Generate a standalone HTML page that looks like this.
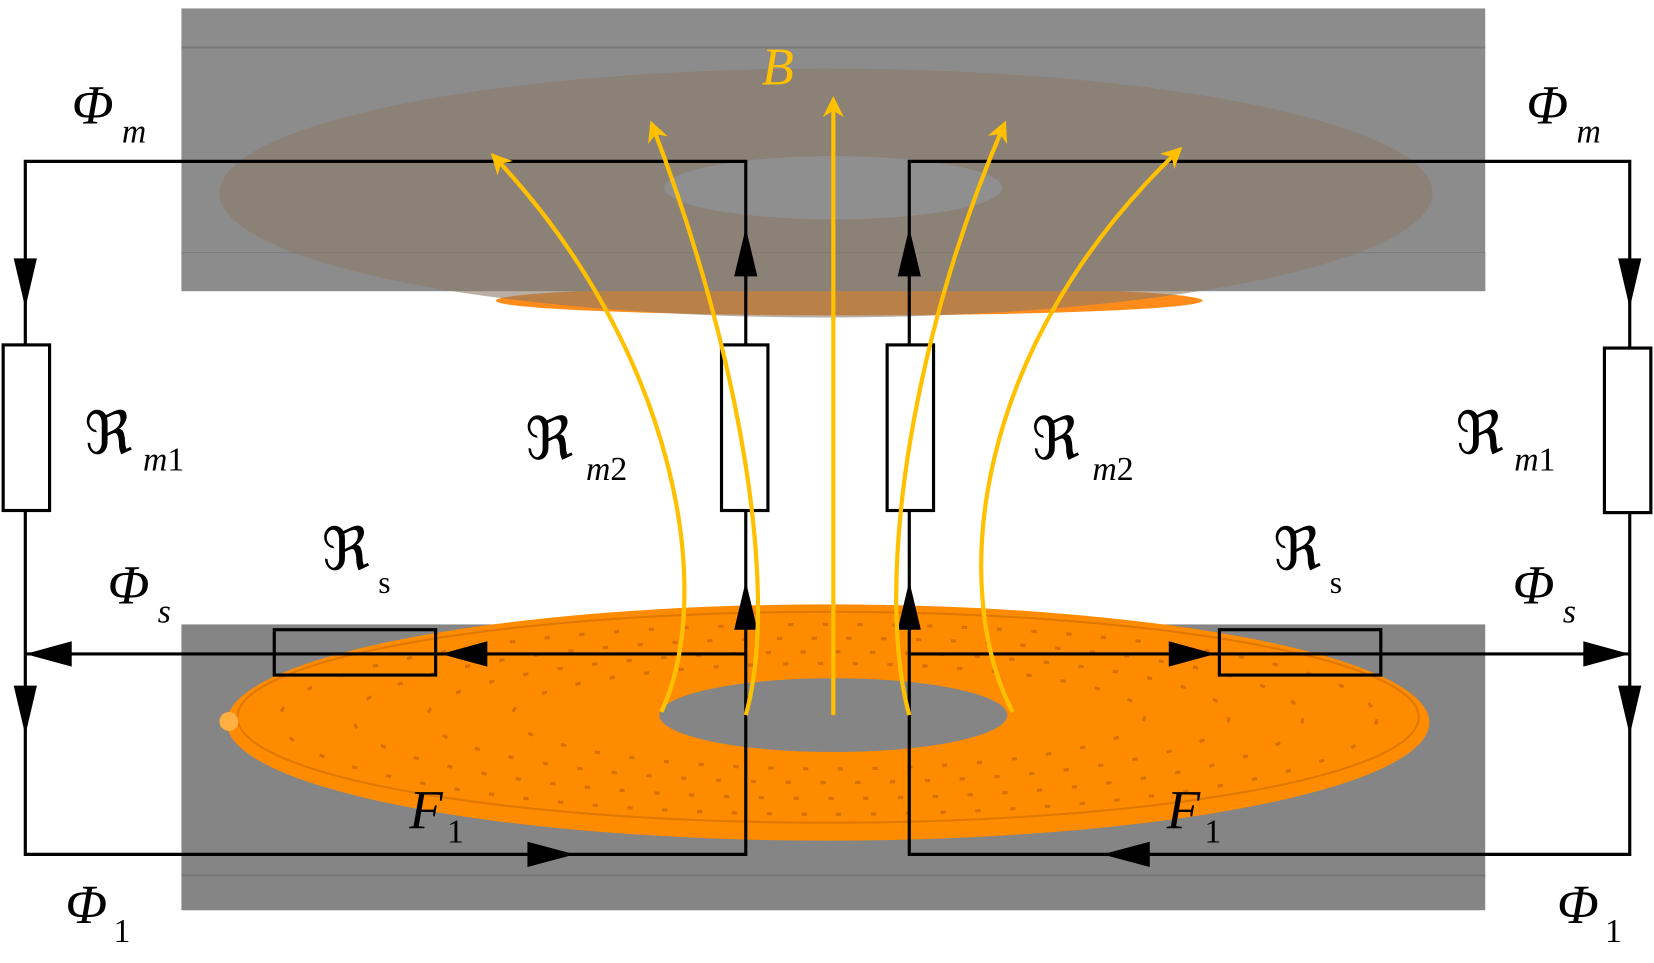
<!DOCTYPE html>
<html><head><meta charset="utf-8"><style>
html,body{margin:0;padding:0;background:#fff;}
svg{display:block;}
text{font-family:"Liberation Serif","DejaVu Serif",serif;font-style:italic;}
</style></head><body>
<svg width="1654" height="963" viewBox="0 0 1568 913" preserveAspectRatio="none" xmlns="http://www.w3.org/2000/svg">
<defs>
<marker id="ay" viewBox="0 0 10 10" refX="8" refY="5" markerWidth="5" markerHeight="5" orient="auto"><path d="M0,0 L10,5 L0,10 L3,5 z" fill="#ffc000"/></marker>
</defs>
<!-- top block -->
<rect x="172" y="8" width="1236" height="268" fill="#8c8c8c"/>
<line x1="172" y1="45" x2="1408" y2="45" stroke="#7a7a7a" stroke-width="2"/>
<line x1="172" y1="240" x2="1408" y2="240" stroke="#7a7a7a" stroke-width="2"/>
<ellipse cx="805" cy="285" rx="335" ry="14" fill="#ff8c1a"/>
<rect x="172" y="240" width="1236" height="36" fill="#8c8c8c"/>
<ellipse cx="783" cy="183" rx="575" ry="118" fill="#8a7a68" opacity="0.6"/>
<ellipse cx="790" cy="178" rx="160" ry="30" fill="#8f8f8f"/>
<!-- bottom block -->
<rect x="172" y="592" width="1236" height="271" fill="#858585"/>
<line x1="172" y1="830" x2="1408" y2="830" stroke="#777" stroke-width="2"/>
<ellipse cx="785" cy="685" rx="570" ry="112" fill="#ff8c00"/>
<ellipse cx="785" cy="680" rx="560" ry="100" fill="none" stroke="#e07800" stroke-width="2"/>
<ellipse cx="785" cy="682" rx="520" ry="90" fill="none" stroke="#d87000" stroke-width="3" stroke-dasharray="5 28"/>
<ellipse cx="785" cy="681" rx="450" ry="76" fill="none" stroke="#d87000" stroke-width="3" stroke-dasharray="5 28"/>
<ellipse cx="785" cy="680" rx="380" ry="62" fill="none" stroke="#d87000" stroke-width="3" stroke-dasharray="5 28"/>
<ellipse cx="785" cy="679" rx="300" ry="50" fill="none" stroke="#d87000" stroke-width="3" stroke-dasharray="5 28"/>
<ellipse cx="790" cy="678" rx="165" ry="35" fill="#858585"/>
<circle cx="217" cy="684" r="9" fill="#ffb040"/>
<!-- circuit -->
<g stroke="#000" stroke-width="3" fill="none">
<path d="M24,153 H707 V810 H24 Z"/>
<path d="M862,153 H1545 V810 H862 Z"/>
<line x1="24" y1="620" x2="707" y2="620"/>
<line x1="862" y1="620" x2="1545" y2="620"/>
</g>
<g fill="#fff" stroke="#000" stroke-width="3">
<rect x="3" y="327" width="44" height="157"/>
<rect x="684" y="327" width="44" height="157"/>
<rect x="841" y="327" width="44" height="157"/>
<rect x="1521" y="330" width="44" height="156"/>
</g>
<g fill="none" stroke="#000" stroke-width="3">
<rect x="260" y="597" width="153" height="43"/>
<rect x="1156" y="597" width="153" height="43"/>
</g>
<g fill="#000">
<path d="M13,245 L35,245 L24,292 Z"/><path d="M13,650 L35,650 L24,697 Z"/>
<path d="M1534,245 L1556,245 L1545,292 Z"/><path d="M1534,650 L1556,650 L1545,697 Z"/>
<path d="M696,262 L718,262 L707,216 Z"/><path d="M696,597 L718,597 L707,551 Z"/>
<path d="M851,262 L873,262 L862,216 Z"/><path d="M851,597 L873,597 L862,551 Z"/>
<path d="M24,620 L68,608 L68,632 Z"/><path d="M418,620 L462,608 L462,632 Z"/>
<path d="M1545,620 L1501,608 L1501,632 Z"/><path d="M1152,620 L1108,608 L1108,632 Z"/>
<path d="M545,810 L500,798 L500,822 Z"/><path d="M1045,810 L1090,798 L1090,822 Z"/>
</g>
<!-- flux lines -->
<g stroke="#ffc000" stroke-width="4" fill="none" marker-end="url(#ay)">
<line x1="790" y1="678" x2="790" y2="95"/>
<path d="M627,675 C680,560 640,330 468,148"/>
<path d="M707,678 C740,560 700,330 618,118"/>
<path d="M862,678 C830,560 860,330 952,118"/>
<path d="M960,675 C900,560 920,330 1118,142"/>
</g>
<!-- labels -->
<text x="722" y="80" font-size="50" fill="#ffc000">B</text>
<g font-size="52" fill="#000">
<text x="68" y="117">Φ<tspan font-size="32" dx="8" dy="18">m</tspan></text>
<text x="1447" y="117">Φ<tspan font-size="32" dx="8" dy="18">m</tspan></text>
<text x="102" y="572">Φ<tspan font-size="32" dx="8" dy="18">s</tspan></text>
<text x="1434" y="572">Φ<tspan font-size="32" dx="8" dy="18">s</tspan></text>
<text x="62" y="875">Φ<tspan font-size="32" dx="6" dy="18" font-style="normal">1</tspan></text>
<text x="1476" y="875">Φ<tspan font-size="32" dx="6" dy="18" font-style="normal">1</tspan></text>
<text x="388" y="785">F<tspan font-size="32" dx="4" dy="14" font-style="normal">1</tspan></text>
<text x="1106" y="785">F<tspan font-size="32" dx="4" dy="14" font-style="normal">1</tspan></text>
</g>
<g font-size="56" fill="#000">
<text x="80" y="430" style="font-style:normal">ℜ<tspan font-size="32" dx="10" dy="16" font-style="italic">m</tspan><tspan font-size="32" font-style="normal">1</tspan></text>
<text x="1380" y="430" style="font-style:normal">ℜ<tspan font-size="32" dx="10" dy="16" font-style="italic">m</tspan><tspan font-size="32" font-style="normal">1</tspan></text>
<text x="498" y="435" style="font-style:normal">ℜ<tspan font-size="32" dx="12" dy="20" font-style="italic">m</tspan><tspan font-size="32" font-style="normal">2</tspan></text>
<text x="978" y="435" style="font-style:normal">ℜ<tspan font-size="32" dx="12" dy="20" font-style="italic">m</tspan><tspan font-size="32" font-style="normal">2</tspan></text>
<text x="305" y="540" style="font-style:normal">ℜ<tspan font-size="30" dx="8" dy="22" font-style="normal">s</tspan></text>
<text x="1207" y="540" style="font-style:normal">ℜ<tspan font-size="30" dx="8" dy="22" font-style="normal">s</tspan></text>
</g>
</svg>
</body></html>
